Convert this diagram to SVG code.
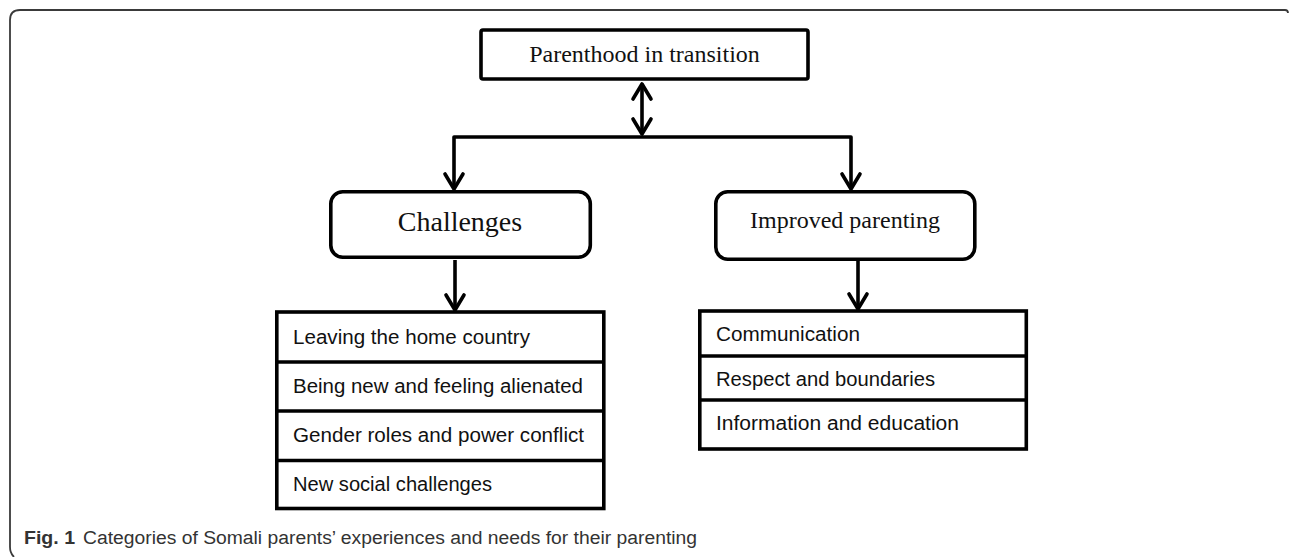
<svg xmlns="http://www.w3.org/2000/svg" width="1290" height="557" viewBox="0 0 1290 557">
<style>
.frame{fill:none;stroke:#3a3a3a;stroke-width:1.8}
.box{fill:#fff;stroke:#000;stroke-width:3.6}
.sep{fill:none;stroke:#000;stroke-width:3.6}
.conn{fill:none;stroke:#000;stroke-width:3.6;stroke-linejoin:round}
.serif{font-family:"Liberation Serif","Times New Roman",serif;fill:#111;text-anchor:middle}
.item{font-family:"Liberation Sans",Arial,sans-serif;font-size:20px;fill:#111}
.cap{font-family:"Liberation Sans",Arial,sans-serif;font-size:18px;fill:#333}
</style>
<defs>
<marker id="ah" markerUnits="userSpaceOnUse" orient="auto-start-reverse" refX="0" refY="0" markerWidth="30" markerHeight="30" viewBox="-20 -15 25 30" overflow="visible">
<path d="M -15 -9 L 0 0 L -15 9" fill="none" stroke="#000" stroke-width="3.6" stroke-linecap="round" stroke-linejoin="round"/>
</marker>
</defs>
<rect width="1290" height="557" fill="#fff"/>
<path class="frame" d="M 1288 13 Q 1288 10 1285 10 L 20 10 Q 10 10 10 20 L 10 547 Q 10 553 14 557"/>
<g id="connectors">
<path class="conn" d="M 642 84 L 642 134" marker-start="url(#ah)" marker-end="url(#ah)"/>
<path class="conn" d="M 642 137 L 454 137 L 454 189" marker-end="url(#ah)"/>
<path class="conn" d="M 642 137 L 851 137 L 851 189" marker-end="url(#ah)"/>
<path class="conn" d="M 455 260 L 455 310" marker-end="url(#ah)"/>
<path class="conn" d="M 858 261 L 858 309" marker-end="url(#ah)"/>
</g>
<g id="node-parenthood">
<rect class="box" x="481" y="30" width="327" height="49" rx="2" stroke-width="4"/>
<text class="serif" x="644.5" y="62" font-size="24">Parenthood in transition</text>
</g>
<g id="node-challenges">
<rect class="box" x="330.8" y="191.8" width="259.5" height="65.5" rx="12"/>
<text class="serif" x="460" y="231" font-size="28">Challenges</text>
</g>
<g id="node-improved">
<rect class="box" x="715.8" y="191.8" width="259" height="67.5" rx="12"/>
<text class="serif" x="845" y="228" font-size="24">Improved parenting</text>
</g>
<g id="node-challenges-list">
<rect class="box" x="276.8" y="312" width="327" height="196.5"/>
<line class="sep" x1="276.8" y1="362" x2="603.8" y2="362"/>
<line class="sep" x1="276.8" y1="411" x2="603.8" y2="411"/>
<line class="sep" x1="276.8" y1="460.5" x2="603.8" y2="460.5"/>
<text class="item" x="293" y="344" textLength="237" lengthAdjust="spacingAndGlyphs">Leaving the home country</text>
<text class="item" x="293" y="393" textLength="290" lengthAdjust="spacingAndGlyphs">Being new and feeling alienated</text>
<text class="item" x="293" y="442" textLength="291" lengthAdjust="spacingAndGlyphs">Gender roles and power conflict</text>
<text class="item" x="293" y="491" textLength="199" lengthAdjust="spacingAndGlyphs">New social challenges</text>
</g>
<g id="node-improved-list">
<rect class="box" x="699.8" y="311" width="326.5" height="138"/>
<line class="sep" x1="699.8" y1="356" x2="1026.3" y2="356"/>
<line class="sep" x1="699.8" y1="400" x2="1026.3" y2="400"/>
<text class="item" x="716" y="341" textLength="144" lengthAdjust="spacingAndGlyphs">Communication</text>
<text class="item" x="716" y="386" textLength="219" lengthAdjust="spacingAndGlyphs">Respect and boundaries</text>
<text class="item" x="716" y="430" textLength="243" lengthAdjust="spacingAndGlyphs">Information and education</text>
</g>
<g id="caption">
<text class="cap" x="24" y="544" font-weight="bold" textLength="51" lengthAdjust="spacingAndGlyphs">Fig. 1</text>
<text class="cap" x="83" y="544" textLength="614" lengthAdjust="spacingAndGlyphs">Categories of Somali parents’ experiences and needs for their parenting</text>
</g>
</svg>
